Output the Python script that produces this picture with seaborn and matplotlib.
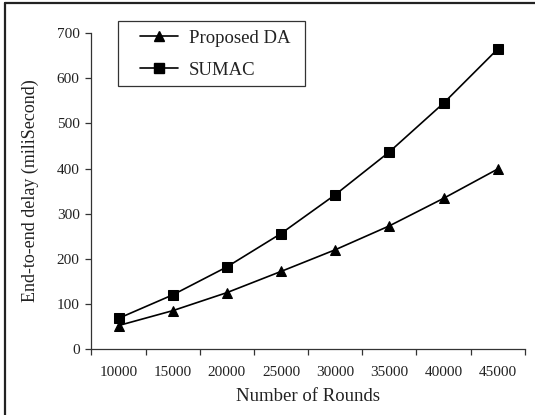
import matplotlib
matplotlib.use("Agg")
import matplotlib.pyplot as plt
from matplotlib.lines import Line2D
from matplotlib.patches import Rectangle
import seaborn as sns
import pandas as pd

rounds = ["10000", "15000", "20000", "25000", "30000", "35000", "40000", "45000"]
proposed_da = [52, 85, 125, 172, 220, 273, 334, 399]
sumac = [68, 120, 182, 256, 342, 437, 545, 665]
series_names = ["Proposed DA", "SUMAC"]
y_ticks = [0, 100, 200, 300, 400, 500, 600, 700]

df = pd.DataFrame({
    "Rounds": rounds * 2,
    "Delay": proposed_da + sumac,
    "Scheme": [series_names[0]] * len(rounds) + [series_names[1]] * len(rounds),
})

sns.set_theme(style="white")
plt.rcParams["font.family"] = ["Liberation Serif", "DejaVu Serif"]

fig = plt.figure(figsize=(5.35, 4.15), dpi=100)
ax = fig.add_axes([0.171, 0.159, 0.81, 0.761])

sns.lineplot(
    data=df, x="Rounds", y="Delay", style="Scheme",
    markers={"Proposed DA": "^", "SUMAC": "s"},
    dashes=False, color="black", linewidth=1.2, markersize=6.5,
    markeredgecolor="black", ax=ax, legend=False, sort=False,
)

ax.set_xlim(-0.5, len(rounds) - 0.5)
ax.set_ylim(0, 700)
ax.set_yticks(y_ticks)
ax.set_yticklabels([str(v) for v in y_ticks], fontsize=11, color="#222222")
ax.set_xticks(range(len(rounds)))
ax.set_xticklabels(rounds, fontsize=11, color="#222222")
ax.set_xticks([i - 0.5 for i in range(len(rounds) + 1)], minor=True)
ax.tick_params(axis="x", which="major", length=0, pad=12)
ax.tick_params(axis="x", which="minor", length=4.5, width=0.9, color="#333333", direction="out", bottom=True)
ax.tick_params(axis="y", which="major", length=4.5, width=0.9, color="#333333", direction="out", left=True, pad=4)

for side in ["top", "right"]:
    ax.spines[side].set_visible(False)
for side in ["left", "bottom"]:
    ax.spines[side].set_color("#333333")
    ax.spines[side].set_linewidth(0.9)
ax.spines["bottom"].set_bounds(-0.5, len(rounds) - 0.5)

ax.set_xlabel("Number of Rounds", fontsize=13.5, color="#222222", labelpad=7)
ax.set_ylabel("End-to-end delay (miliSecond)", fontsize=13, color="#222222", labelpad=13)

handles = [
    Line2D([], [], color="black", marker="^", markersize=6.5, linewidth=1.2),
    Line2D([], [], color="black", marker="s", markersize=6.5, linewidth=1.2),
]
leg = fig.legend(
    handles, series_names, loc="upper left",
    bbox_to_anchor=(140 / 535, 1 - 29.5 / 415), bbox_transform=fig.transFigure,
    fontsize=13.5, frameon=False, borderpad=0, handlelength=2.0,
    handletextpad=0.6, labelspacing=0.8, borderaxespad=0,
)
for t in leg.get_texts():
    t.set_color("#222222")

# legend box
fig.add_artist(Rectangle(
    (118 / 535, 1 - 86 / 415), (305 - 118) / 535, (86 - 20.7) / 415,
    transform=fig.transFigure, fill=False, edgecolor="#333333", linewidth=0.9,
))

# outer frame lines along the left and top edges of the figure
fig.add_artist(Line2D([5 / 535, 5 / 535], [0, 1 - 3.5 / 415], transform=fig.transFigure, color="#222222", linewidth=1.6))
fig.add_artist(Line2D([5 / 535, 1], [1 - 3.5 / 415, 1 - 3.5 / 415], transform=fig.transFigure, color="#222222", linewidth=1.6))

fig.savefig("out.png", dpi=100)
